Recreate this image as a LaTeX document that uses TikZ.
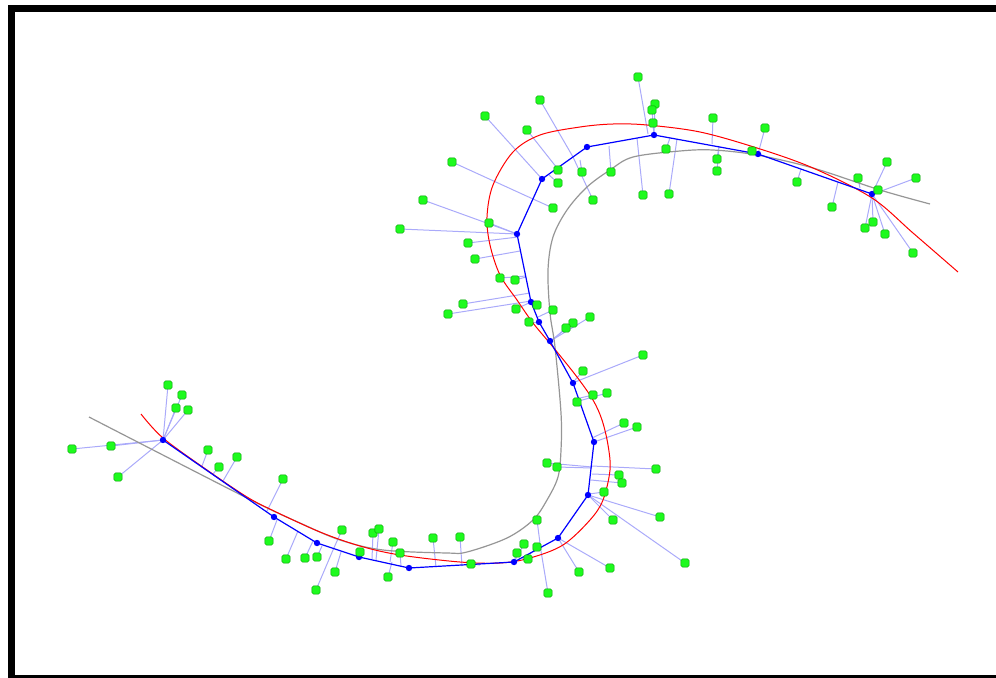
\documentclass[tikz,border=0pt]{standalone}
\usepackage{xcolor}
\definecolor{ProjBlue}{RGB}{170,170,250}
\definecolor{RefGray}{RGB}{150,150,150}
\definecolor{SampGreen}{RGB}{30,250,30}

%% green samples: sample x/y, foot x/y on the polyline (pixel units)
\def\samplist{168/385/163/440, 182/395/163/440, 176/408/163/440, 188/410/163/440,
  72/449/163/440, 111/446/163/440, 118/477/163/440, 208/450/202/466,
  219/467/213/474, 237/457/223/481, 283/479/267/511, 269/541/277/520,
  286/559/298/531, 305/558/313/541, 317/557/322/546, 316/590/333/550,
  335/572/341/552, 342/530/333/550, 360/552/360/557, 373/533/372/559,
  379/529/376/560, 393/542/390/562, 388/577/392/562, 400/553/401/566,
  433/538/436/567, 460/537/462/566, 471/564/480/565,
  524/544/514/562, 517/553/514/562, 537/547/530/554, 528/559/522/558,
  537/520/541/551, 548/593/541/551, 579/572/558/538, 610/568/558/538,
  660/517/588/495, 613/520/588/495, 685/563/588/495, 604/492/589/494,
  547/463/592/467, 557/467/592/468, 656/469/592/466, 619/475/592/474,
  622/483/591/480, 624/423/592/438, 637/427/594/442, 607/393/579/401,
  593/395/580/398, 577/402/580/401, 643/355/575/382, 583/371/575/380,
  590/317/552/340, 573/323/551/341, 566/328/551/341, 553/310/538/317,
  529/322/539/322, 516/309/531/302, 537/305/531/302, 463/304/530/293,
  448/314/531/301, 500/278/526/276, 515/280/526/277, 475/259/520/251,
  468/243/518/237, 489/223/517/234, 423/200/517/234, 400/229/517/234,
  452/162/533/199, 553/208/533/199, 485/116/542/179, 527/130/557/168,
  558/170/557/168, 558/183/549/175, 540/100/573/157, 593/200/573/157,
  582/172/580/160, 611/172/609/146, 643/195/637/138, 669/194/677/139,
  666/149/670/138, 638/77/648/134, 655/104/654/135, 652/110/654/135,
  653/123/654/135, 713/118/712/144, 717/159/719/146, 717/171/719/146,
  765/128/758/154, 752/151/758/154, 797/182/801/169, 832/207/838/182,
  858/178/860/188, 887/162/872/194, 916/178/876/193, 878/190/872/194,
  873/222/872/194, 865/228/872/194, 885/234/872/194, 913/253/872/194}

\begin{document}
\begin{tikzpicture}[x=0.75pt, y=-0.75pt,
  frame/.style={draw=black, line width=5.25pt},
  proj/.style={draw=ProjBlue, line width=0.75pt},
  ref/.style={draw=RefGray, line width=0.9pt},
  spline/.style={draw=red, line width=0.75pt},
  poly/.style={draw=blue, line width=0.9pt},
  knot/.style={circle, fill=blue, inner sep=0pt, minimum size=4.8pt},
  samp/.style={rectangle, rounded corners=1.2pt, fill=SampGreen,
               draw=green!60!black, line width=0.3pt,
               inner sep=0pt, minimum size=6.2pt},
]
\useasboundingbox (0,0) rectangle (996,678);

%% ── Frame ────────────────────────────────────
\begin{scope}
  \clip (0,0) rectangle (996,678);
  \draw[frame] (11.5,8.5) rectangle (1010,678.5);
\end{scope}

%% ── Polyline knots ───────────────────────────
\foreach \x/\y [count=\i] in {163/440, 274/517, 317/543, 359/557, 409/568,
    514/562, 558/538, 588/495, 594/442, 573/383, 550/341, 539/322,
    531/302, 517/234, 542/179, 587/147, 654/135, 758/154, 872/194}
  \coordinate (v\i) at (\x,\y);

%% ── Projection lines ─────────────────────────
\foreach \gx/\gy/\fx/\fy [count=\i] in \samplist {
  \coordinate (g\i) at (\gx,\gy);
  \coordinate (f\i) at (\fx,\fy);
  \draw[proj] (g\i) -- (f\i);
}

%% ── Reference curve (gray) ───────────────────
\draw[ref] plot[smooth, tension=0.55] coordinates {
  (89,417) (247,498) (300,523) (340,540) (383,550) (447,553) (467,552)
  (507,538) (533,520) (547,500) (558,477) (561,450) (561,413) (555,347)
  (550,313) (548,270) (553,237) (567,210) (587,187) (610,170) (633,157)
  (680,151) (713,150) (757,155) (813,168) (880,190) (930,204)};

%% ── Fitted spline (red) ──────────────────────
\draw[spline] plot[smooth, tension=0.55] coordinates {
  (141,414) (163,438) (207,470) (247,497) (274,511) (320,532) (360,546)
  (400,555) (460,562) (500,563) (530,558) (563,545) (590,520) (603,500)
  (610,470) (608,445) (602,420) (593,400) (577,377) (553,347) (533,323)
  (517,300) (500,275) (490,245) (487,217) (493,185) (513,152) (540,135)
  (580,127) (613,124) (647,125) (700,132) (757,148) (813,168) (872,198)
  (913,233) (958,272)};

%% ── Control polyline (blue) ──────────────────
\draw[poly] (v1) \foreach \i in {2,...,19} { -- (v\i) };
\foreach \i in {1,...,19}
  \node[knot] at (v\i) {};

%% ── Samples ──────────────────────────────────
\foreach \gx/\gy/\fx/\fy [count=\i] in \samplist
  \node[samp] (s\i) at (g\i) {};

\end{tikzpicture}
\end{document}
